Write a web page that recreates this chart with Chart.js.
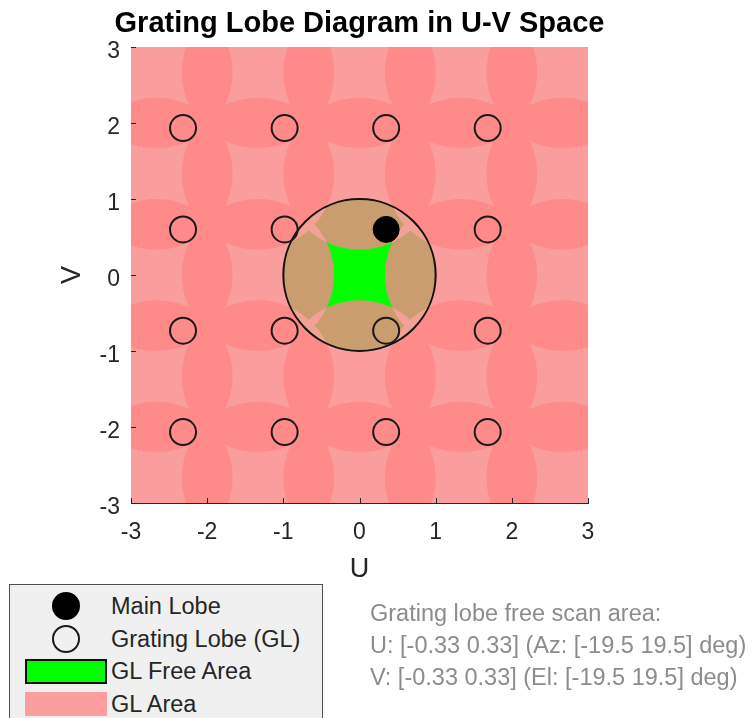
<!DOCTYPE html>
<html>
<head>
<meta charset="utf-8">
<script src="https://cdn.jsdelivr.net/npm/chart.js@4.4.1/dist/chart.umd.min.js"></script>
<style>
  html, body { margin: 0; padding: 0; background: #fff; width: 754px; height: 718px; overflow: hidden; }
  #wrap { position: relative; width: 754px; height: 718px; font-family: "Liberation Sans", Arial, sans-serif; }
  #plot { position: absolute; left: 0; top: 0; }
  #legend { position: absolute; left: 9px; top: 584px; width: 314px; height: 160px; background: #f0f0f0;
            border: 1px solid #4d4d4d; box-sizing: border-box; }
  #legend .sym { position: absolute; box-sizing: border-box; }
  #legend .lab { position: absolute; left: 101px; font-size: 23.5px; color: #262626; line-height: 28px; white-space: nowrap; }
  #note { position: absolute; left: 370px; top: 597px; font-size: 23.5px; line-height: 32px; color: #8c8c8c; white-space: nowrap; }
</style>
</head>
<body>
<div id="wrap">
  <canvas id="plot" width="754" height="718"></canvas>
  <div id="legend"></div>
  <div id="note"></div>
</div>
<script>
// Axis ticks (U and V direction cosines)
const axisTicks = [-3, -2, -1, 0, 1, 2, 3];

// Main lobe position (u, v)
const mainLobeU = [0.35];
const mainLobeV = [0.60];

// Grating lobe grid (u and v positions of the lobe lattice)
const lobeU = [-2.317, -0.983, 0.35, 1.683];
const lobeV = [1.933, 0.60, -0.733, -2.067];

// Centres of the grating-lobe regions (multiples of lambda/d) and visible-region radius
const regionU = [-2.667, -1.333, 0, 1.333, 2.667];
const regionV = [-2.667, -1.333, 0, 1.333, 2.667];
const visibleRadius = 1;

const chartTitle = 'Grating Lobe Diagram in U-V Space';

// Scan-range summary
const noteLines = [
  'Grating lobe free scan area:',
  'U: [-0.33 0.33] (Az: [-19.5 19.5] deg)',
  'V: [-0.33 0.33] (El: [-19.5 19.5] deg)'
];

const legendEntries = [
  { label: 'Main Lobe', kind: 'dot' },
  { label: 'Grating Lobe (GL)', kind: 'ring' },
  { label: 'GL Free Area', kind: 'freePatch' },
  { label: 'GL Area', kind: 'glPatch' }
];

const palette = {
  glSingle: '#f99d9d',
  glOverlap: '#ff8a8a',
  visibleSingle: '#c99d6e',
  visibleOverlap: '#f2a294',
  free: '#00ff00',
  axis: '#262626'
};

// Main lobe and grating lobe point sets
const mainLobe = mainLobeU.map((u, i) => ({ x: u, y: mainLobeV[i] }));
const gratingLobes = [];
lobeV.forEach(v => lobeU.forEach(u => {
  if (!(u === mainLobeU[0] && v === mainLobeV[0])) gratingLobes.push({ x: u, y: v });
}));

// Region centres (all lattice points except the main beam's own cell)
const centers = [];
regionV.forEach(v => regionU.forEach(u => {
  if (!(u === 0 && v === 0)) centers.push({ u, v });
}));
const overlaps = [];
for (let i = 0; i < centers.length; i++) {
  for (let j = i + 1; j < centers.length; j++) {
    const d = Math.hypot(centers[i].u - centers[j].u, centers[i].v - centers[j].v);
    if (d < 2 * visibleRadius) overlaps.push([centers[i], centers[j]]);
  }
}

const regionPlugin = {
  id: 'gratingRegions',
  beforeDatasetsDraw(chart) {
    const { ctx, chartArea: a, scales: { x, y } } = chart;
    const sx = x.getPixelForValue(1) - x.getPixelForValue(0);
    const sy = y.getPixelForValue(0) - y.getPixelForValue(1);
    const ell = (u, v, r) => {
      ctx.ellipse(x.getPixelForValue(u), y.getPixelForValue(v), r * sx, r * sy, 0, 0, Math.PI * 2);
    };
    const fillCircle = (c, color) => { ctx.beginPath(); ell(c.u, c.v, visibleRadius); ctx.fillStyle = color; ctx.fill(); };
    const fillPairs = color => {
      overlaps.forEach(([p, q]) => {
        ctx.save();
        ctx.beginPath(); ell(p.u, p.v, visibleRadius); ctx.clip();
        fillCircle(q, color);
        ctx.restore();
      });
    };

    // Outside the visible region
    ctx.save();
    ctx.beginPath();
    ctx.rect(a.left, a.top, a.width, a.height);
    ell(0, 0, visibleRadius);
    ctx.clip('evenodd');
    ctx.fillStyle = palette.glSingle;
    ctx.fillRect(a.left, a.top, a.width, a.height);
    fillPairs(palette.glOverlap);
    ctx.restore();

    // Inside the visible region
    ctx.save();
    ctx.beginPath(); ell(0, 0, visibleRadius); ctx.clip();
    ctx.fillStyle = palette.free;
    ctx.fillRect(a.left, a.top, a.width, a.height);
    centers.forEach(c => fillCircle(c, palette.visibleSingle));
    fillPairs(palette.visibleOverlap);
    ctx.restore();

    // Visible-region boundary
    ctx.save();
    ctx.beginPath(); ell(0, 0, visibleRadius);
    ctx.lineWidth = 2; ctx.strokeStyle = '#111';
    ctx.stroke();
    ctx.restore();
  },
  afterDatasetsDraw(chart) {
    // inward tick marks
    const { ctx, chartArea: a, scales: { x, y } } = chart;
    ctx.save();
    ctx.strokeStyle = palette.axis; ctx.lineWidth = 1;
    ctx.beginPath();
    axisTicks.forEach(t => {
      const px = Math.round(x.getPixelForValue(t)) + 0.5;
      ctx.moveTo(px, a.bottom); ctx.lineTo(px, a.bottom - 5);
      const py = Math.round(y.getPixelForValue(t)) + 0.5;
      ctx.moveTo(a.left, py); ctx.lineTo(a.left + 5, py);
    });
    ctx.stroke();
    ctx.restore();
  },
  afterDraw(chart) {
    // plot title centred over the axes
    const { ctx, chartArea: a } = chart;
    ctx.save();
    ctx.font = 'bold 29px "Liberation Sans", Arial, sans-serif';
    ctx.fillStyle = '#000';
    ctx.textAlign = 'center';
    ctx.textBaseline = 'alphabetic';
    ctx.fillText(chartTitle, (a.left + a.right) / 2, 32);
    ctx.restore();
  }
};

const tickFont = { family: '"Liberation Sans", Arial, sans-serif', size: 23 };
const titleFont = { family: '"Liberation Sans", Arial, sans-serif', size: 27 };

new Chart(document.getElementById('plot'), {
  type: 'scatter',
  data: {
    datasets: [
      {
        label: 'Main Lobe',
        data: mainLobe,
        pointRadius: 13,
        pointBackgroundColor: '#000',
        pointBorderColor: '#000',
        pointBorderWidth: 1
      },
      {
        label: 'Grating Lobe (GL)',
        data: gratingLobes,
        pointRadius: 13,
        pointBackgroundColor: 'rgba(0,0,0,0)',
        pointBorderColor: '#1a1a1a',
        pointBorderWidth: 2
      }
    ]
  },
  options: {
    responsive: false,
    animation: false,
    devicePixelRatio: 1,
    layout: { padding: { left: 0, top: 47, right: 166, bottom: 131 } },
    plugins: {
      legend: { display: false },
      tooltip: { enabled: false },
      title: { display: false }
    },
    scales: {
      x: {
        type: 'linear',
        min: -3, max: 3,
        afterBuildTicks: s => { s.ticks = axisTicks.map(v => ({ value: v })); },
        afterFit: s => { s.height = 84; },
        ticks: { font: tickFont, color: palette.axis, padding: 16 },
        grid: { drawOnChartArea: false, drawTicks: false },
        border: { display: true, color: palette.axis, width: 1 },
        title: { display: true, text: 'U', font: titleFont, color: palette.axis, padding: { top: 0, bottom: 0.8 } }
      },
      y: {
        type: 'linear',
        min: -3, max: 3,
        afterBuildTicks: s => { s.ticks = axisTicks.map(v => ({ value: v })); },
        afterFit: s => { s.width = 131; },
        ticks: { font: tickFont, color: palette.axis, padding: 11, labelOffset: 5 },
        grid: { drawOnChartArea: false, drawTicks: false },
        border: { display: true, color: palette.axis, width: 1 },
        title: { display: true, text: 'V', font: titleFont, color: palette.axis, padding: { top: 56, bottom: 0 } }
      }
    }
  },
  plugins: [regionPlugin]
});

// Legend panel
const legend = document.getElementById('legend');
const rowTop = [21, 54, 86, 119];
legendEntries.forEach((e, i) => {
  const cy = rowTop[i];
  const sym = document.createElement('div');
  sym.className = 'sym';
  if (e.kind === 'dot') {
    Object.assign(sym.style, { left: '42px', top: (cy - 14) + 'px', width: '28px', height: '28px', borderRadius: '50%', background: '#000' });
  } else if (e.kind === 'ring') {
    Object.assign(sym.style, { left: '42px', top: (cy - 14) + 'px', width: '28px', height: '28px', borderRadius: '50%', border: '2px solid #1a1a1a' });
  } else if (e.kind === 'freePatch') {
    Object.assign(sym.style, { left: '15px', top: (cy - 12) + 'px', width: '82px', height: '25px', background: palette.free, border: '2px solid #111' });
  } else {
    Object.assign(sym.style, { left: '15px', top: (cy - 12) + 'px', width: '82px', height: '24px', background: '#fd9e9e' });
  }
  legend.appendChild(sym);
  const lab = document.createElement('div');
  lab.className = 'lab';
  lab.style.top = (cy - 14) + 'px';
  lab.textContent = e.label;
  legend.appendChild(lab);
});

// Scan-range note
document.getElementById('note').innerHTML = noteLines.map(t => '<div>' + t + '</div>').join('');
</script>
</body>
</html>
